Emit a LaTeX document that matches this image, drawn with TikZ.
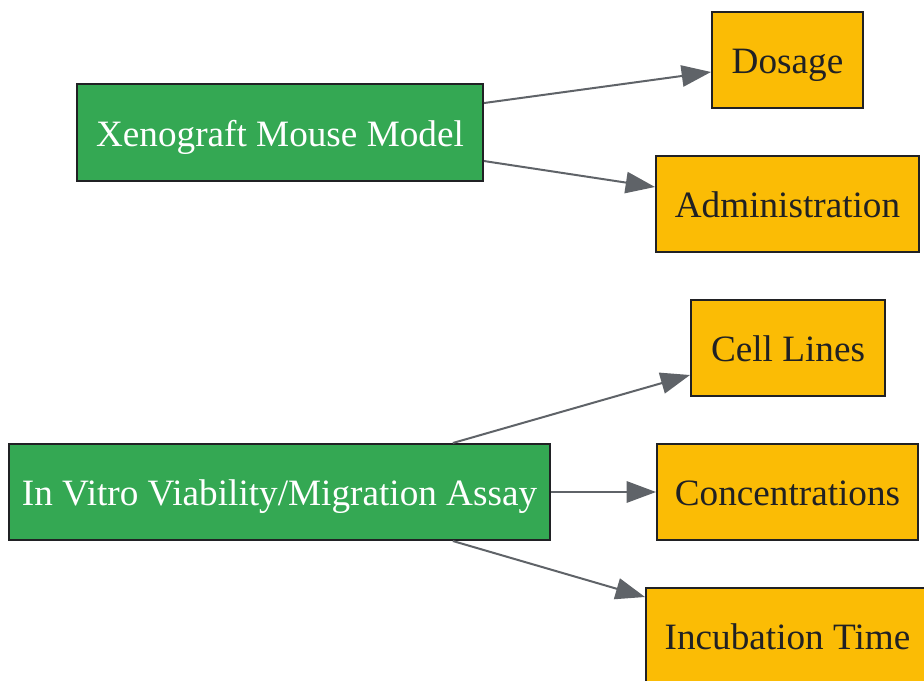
\documentclass[tikz,border=0pt]{standalone}
\usepackage{fontspec}
\setmainfont{Liberation Serif}
\usetikzlibrary{arrows.meta}
\definecolor{gfill}{HTML}{34A853}
\definecolor{yfill}{HTML}{FBBC05}
\definecolor{bord}{HTML}{202124}
\definecolor{edgec}{HTML}{5F6368}
\tikzset{
  base/.style={draw=bord, line width=1.5pt, inner sep=0pt, align=center,
    text height=21pt, text depth=0.5pt,
    font=\fontsize{27.9}{33}\selectfont},
  grn/.style={base, fill=gfill, text=white},
  ylw/.style={base, fill=yfill, text=bord, minimum height=72pt},
  conn/.style={draw=edgec, line width=1.5pt, -{Triangle[length=22pt,width=16pt]}}
}
\begin{document}
\begin{tikzpicture}[x=0.75pt,y=-0.75pt]
\useasboundingbox (0,0) rectangle (924,681);
\clip (0,0) rectangle (924,681);
\node[grn, minimum width=304.5pt, minimum height=72.75pt] (xeno) at (280,132.5) {Xenograft Mouse Model};
\node[grn, minimum width=405.75pt, minimum height=72pt] (vitro) at (279.5,492) {In Vitro Viability/Migration Assay};
\node[ylw, minimum width=113.25pt] (dos) at (787.5,60) {Dosage};
\node[ylw, minimum width=197.25pt] (adm) at (787.5,204) {Administration};
\node[ylw, minimum width=145.5pt] (cell) at (788,348) {Cell Lines};
\node[ylw, minimum width=195.75pt] (conc) at (787.5,492) {Concentrations};
\node[ylw, minimum width=212.25pt] (inc) at (787.5,636) {Incubation Time};
\draw[conn] ([yshift=22.1pt]xeno.east) -- ([yshift=-9pt]dos.west);
\draw[conn] ([yshift=-21.4pt]xeno.east) -- ([yshift=12.75pt]adm.west);
\draw[conn] ([xshift=130pt]vitro.north) -- ([yshift=-20.25pt]cell.west);
\draw[conn] (vitro.east) -- (conc.west);
\draw[conn] ([xshift=130pt]vitro.south) -- ([yshift=29.25pt]inc.west);
\end{tikzpicture}
\end{document}
